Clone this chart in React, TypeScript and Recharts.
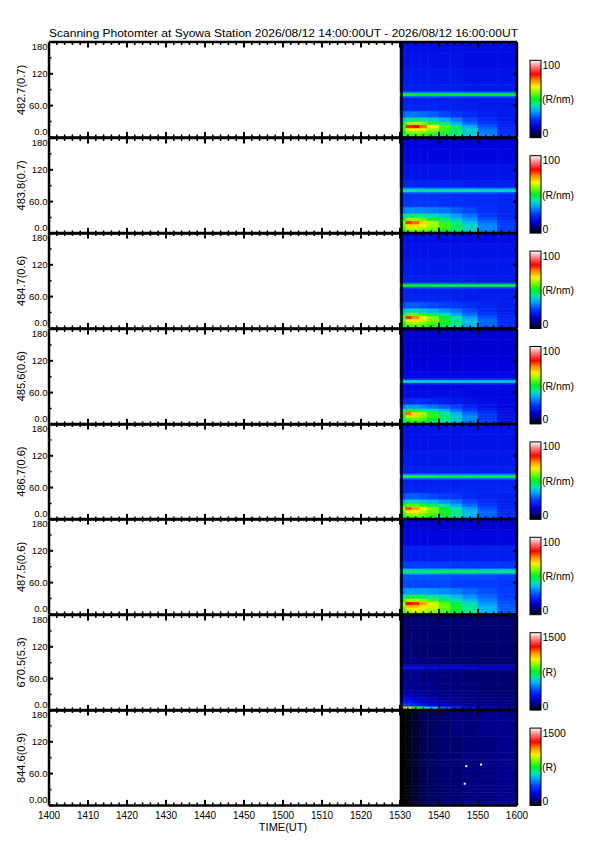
import React from 'react';
import { ComposedChart, XAxis, YAxis, ReferenceArea, ReferenceLine, Scatter } from 'recharts';

const TITLE = 'Scanning Photomter at Syowa Station  2026/08/12 14:00:00UT - 2026/08/12 16:00:00UT';
const X_TITLE = 'TIME(UT)';
const X_TICKS = [0, 10, 20, 30, 40, 50, 60, 70, 80, 90, 100, 110, 120];
const X_TICK_LABELS = ['1400', '1410', '1420', '1430', '1440', '1450', '1500', '1510', '1520', '1530', '1540', '1550', '1600'];
const X_ALL_TICKS = [0, 2, 4, 6, 8, 10, 12, 14, 16, 18, 20, 22, 24, 26, 28, 30, 32, 34, 36, 38, 40, 42, 44, 46, 48, 50, 52, 54, 56, 58, 60, 62, 64, 66, 68, 70, 72, 74, 76, 78, 80, 82, 84, 86, 88, 90, 92, 94, 96, 98, 100, 102, 104, 106, 108, 110, 112, 114, 116, 118, 120];
const Y_TICKS = [0, 60, 120, 180];
const Y_ALL_TICKS = [0, 30, 60, 90, 120, 150, 180];
const Y_LABELS = ['0.0', '60.0', '120', '180'];
const Y_LABELS_LAST = ['0.00', '60.0', '120', '180'];

const PANEL_NAMES = ['482.7(0.7)', '483.8(0.7)', '484.7(0.6)', '485.6(0.6)', '486.7(0.6)', '487.5(0.6)', '670.5(5.3)', '844.6(0.9)'];
const CBAR_MAX = ['100', '100', '100', '100', '100', '100', '1500', '1500'];
const CBAR_UNIT = ['(R/nm)', '(R/nm)', '(R/nm)', '(R/nm)', '(R/nm)', '(R/nm)', '(R)', '(R)'];

// time bin edges (minutes after 14:00 UT), angle bin edges (deg)
const TIME_EDGES = [90, 91.5, 93, 95, 97, 100, 103, 106, 110, 115, 120];
const ANGLE_EDGES = [0, 3, 8, 13, 18, 24, 30, 38, 50, 65, 76, 79, 84, 87, 100, 130, 160, 180];

// intensity in percent of colour-bar maximum, rows = angle bins (ascending), cols = time bins
const GRID_4827 = [
  [36, 42, 44, 42, 40, 37, 34, 30, 25, 21],
  [44, 52, 54, 53, 51, 48, 44, 38, 31, 23],
  [50, 58, 60, 59, 56, 52, 46, 39, 31, 23],
  [53, 64, 66, 64, 60, 54, 47, 39, 30, 22],
  [54, 80, 82, 76, 66, 55, 44, 35, 27, 21],
  [48, 60, 62, 58, 52, 44, 36, 29, 24, 20],
  [38, 44, 45, 43, 40, 36, 31, 26, 22, 19],
  [28, 30, 30, 29, 28, 26, 24, 22, 20, 19],
  [21, 21, 21, 21, 21, 20, 20, 20, 19, 19],
  [20, 20, 20, 20, 20, 20, 20, 19, 19, 19],
  [30, 30, 30, 30, 30, 29, 29, 29, 29, 29],
  [51, 51, 50, 50, 50, 50, 50, 50, 50, 50],
  [30, 30, 29, 29, 29, 29, 29, 29, 29, 29],
  [20, 20, 20, 20, 20, 20, 20, 19, 19, 19],
  [19, 19, 19, 19, 19, 19, 19, 18, 18, 18],
  [18, 18, 18, 18, 18, 18, 18, 17, 17, 17],
  [17, 17, 17, 17, 17, 17, 17, 17, 17, 17],
];
const GRID_4838 = [
  [40, 46, 48, 47, 45, 42, 38, 33, 27, 22],
  [48, 56, 58, 57, 54, 50, 45, 39, 31, 24],
  [53, 62, 63, 61, 58, 53, 47, 40, 32, 25],
  [56, 68, 68, 65, 60, 54, 47, 40, 32, 25],
  [58, 80, 76, 68, 61, 53, 45, 37, 30, 24],
  [50, 60, 60, 56, 51, 45, 39, 33, 27, 22],
  [40, 46, 46, 44, 41, 38, 34, 30, 25, 21],
  [30, 32, 32, 32, 31, 30, 28, 26, 23, 21],
  [24, 24, 24, 24, 24, 23, 23, 22, 22, 21],
  [23, 23, 23, 23, 23, 23, 22, 22, 22, 21],
  [30, 30, 30, 30, 30, 30, 29, 29, 29, 28],
  [43, 43, 43, 43, 43, 42, 42, 42, 41, 41],
  [31, 31, 31, 31, 30, 30, 30, 30, 29, 29],
  [21, 21, 21, 21, 21, 21, 21, 20, 20, 20],
  [18, 18, 18, 18, 18, 18, 18, 18, 18, 18],
  [16, 16, 16, 16, 16, 16, 16, 16, 16, 16],
  [15, 15, 15, 15, 15, 15, 15, 15, 15, 15],
];
const GRID_4847 = [
  [38, 44, 45, 44, 42, 39, 35, 30, 24, 20],
  [46, 54, 56, 54, 51, 47, 42, 35, 28, 22],
  [51, 60, 61, 59, 55, 50, 44, 37, 29, 22],
  [54, 66, 66, 63, 58, 51, 44, 37, 29, 22],
  [56, 80, 74, 66, 58, 50, 42, 34, 27, 21],
  [46, 56, 56, 52, 47, 41, 35, 29, 24, 20],
  [36, 40, 40, 38, 36, 33, 30, 26, 22, 20],
  [26, 28, 28, 27, 26, 25, 24, 22, 21, 20],
  [21, 21, 21, 21, 21, 21, 20, 20, 20, 20],
  [20, 20, 20, 20, 20, 20, 20, 20, 19, 19],
  [28, 28, 28, 28, 28, 28, 28, 27, 27, 27],
  [49, 50, 50, 49, 49, 48, 48, 48, 48, 48],
  [28, 28, 28, 28, 28, 28, 28, 27, 27, 27],
  [20, 20, 20, 20, 20, 20, 20, 20, 19, 19],
  [19, 19, 19, 19, 19, 19, 19, 19, 19, 19],
  [18, 18, 18, 18, 18, 18, 18, 18, 18, 18],
  [17, 17, 17, 17, 17, 17, 17, 17, 17, 17],
];
const GRID_4856 = [
  [34, 40, 41, 40, 38, 35, 31, 26, 21, 17],
  [42, 50, 52, 50, 46, 42, 37, 30, 24, 18],
  [47, 56, 57, 55, 50, 45, 39, 32, 25, 18],
  [50, 62, 62, 58, 53, 46, 39, 32, 24, 18],
  [52, 76, 68, 60, 52, 44, 36, 29, 23, 17],
  [42, 50, 50, 46, 41, 36, 30, 25, 20, 17],
  [30, 34, 34, 32, 30, 28, 25, 21, 18, 16],
  [21, 22, 22, 22, 21, 20, 19, 18, 17, 16],
  [17, 17, 17, 17, 17, 17, 17, 16, 16, 16],
  [16, 16, 16, 16, 16, 16, 16, 16, 16, 16],
  [23, 23, 23, 23, 23, 23, 23, 23, 23, 23],
  [41, 41, 41, 40, 40, 40, 39, 39, 39, 39],
  [23, 23, 23, 23, 23, 23, 23, 23, 23, 23],
  [16, 16, 16, 16, 16, 16, 16, 16, 16, 16],
  [15, 15, 15, 15, 15, 15, 15, 15, 15, 15],
  [14, 14, 14, 14, 14, 14, 14, 14, 14, 14],
  [14, 14, 14, 14, 14, 14, 14, 14, 14, 14],
];
const GRID_4867 = [
  [38, 44, 45, 44, 42, 39, 35, 30, 24, 20],
  [46, 54, 56, 54, 51, 47, 42, 35, 28, 22],
  [51, 60, 61, 58, 55, 50, 44, 37, 29, 22],
  [55, 66, 66, 62, 57, 51, 44, 37, 29, 22],
  [58, 78, 72, 65, 58, 50, 42, 34, 27, 21],
  [48, 56, 56, 52, 47, 41, 35, 29, 24, 20],
  [36, 40, 40, 38, 36, 33, 30, 26, 22, 20],
  [26, 28, 28, 27, 26, 25, 24, 22, 21, 20],
  [21, 21, 21, 21, 21, 21, 21, 21, 21, 21],
  [20, 20, 20, 20, 20, 20, 20, 20, 20, 20],
  [30, 30, 30, 30, 30, 30, 30, 30, 30, 30],
  [52, 52, 52, 51, 51, 51, 50, 50, 50, 50],
  [30, 30, 30, 30, 30, 30, 30, 30, 30, 30],
  [20, 20, 20, 20, 20, 20, 20, 20, 20, 20],
  [19, 19, 19, 19, 19, 19, 19, 19, 19, 19],
  [18, 18, 18, 18, 18, 18, 18, 18, 18, 18],
  [18, 18, 18, 18, 18, 18, 18, 18, 18, 18],
];
const GRID_4875 = [
  [42, 50, 52, 51, 49, 46, 42, 37, 31, 25],
  [52, 60, 62, 61, 58, 54, 49, 43, 35, 27],
  [56, 64, 66, 64, 61, 56, 51, 44, 36, 28],
  [59, 70, 70, 67, 63, 57, 51, 44, 36, 28],
  [60, 82, 80, 72, 64, 56, 48, 41, 33, 27],
  [52, 62, 62, 59, 54, 48, 43, 37, 31, 26],
  [42, 48, 48, 46, 43, 40, 37, 33, 29, 25],
  [32, 34, 34, 34, 33, 32, 31, 29, 27, 25],
  [26, 26, 26, 26, 26, 26, 25, 25, 25, 24],
  [27, 27, 27, 27, 27, 27, 26, 26, 26, 25],
  [36, 36, 36, 36, 36, 35, 35, 35, 34, 34],
  [47, 47, 47, 47, 47, 46, 46, 46, 45, 45],
  [36, 36, 36, 36, 35, 35, 35, 34, 34, 34],
  [25, 25, 25, 25, 25, 25, 24, 24, 24, 24],
  [20, 20, 20, 20, 20, 20, 20, 20, 20, 20],
  [16, 16, 16, 16, 16, 16, 16, 16, 16, 16],
  [14, 14, 14, 14, 14, 14, 14, 14, 14, 14],
];
const GRID_6705 = [
  [70, 58, 50, 42, 34, 27, 21, 16, 12, 10],
  [74, 62, 52, 44, 36, 28, 21, 16, 12, 10],
  [26, 24, 21, 18, 15, 13, 11, 10, 9, 8],
  [20, 19, 17, 15, 13, 11, 10, 9, 8, 8],
  [17, 16, 14, 13, 12, 10, 9, 9, 8, 8],
  [14, 13, 12, 11, 10, 9, 9, 8, 8, 7],
  [12, 11, 10, 10, 9, 9, 8, 8, 7, 7],
  [10, 10, 9, 9, 9, 8, 8, 8, 7, 7],
  [9, 9, 9, 8, 8, 8, 8, 7, 7, 7],
  [9, 9, 9, 8, 8, 8, 8, 7, 7, 7],
  [11, 11, 11, 11, 10, 10, 10, 10, 9, 9],
  [18, 18, 18, 17, 17, 17, 16, 16, 15, 14],
  [11, 11, 11, 10, 10, 10, 10, 9, 9, 9],
  [8, 8, 8, 8, 8, 7, 7, 7, 7, 7],
  [8, 8, 7, 7, 7, 7, 7, 7, 7, 7],
  [7, 7, 7, 7, 7, 7, 7, 7, 7, 7],
  [7, 7, 7, 7, 7, 7, 7, 7, 7, 7],
];
const GRID_8446 = [
  [0, 1, 6, 9, 11, 12, 12, 13, 13, 13],
  [0, 1, 4, 7, 8, 9, 9, 10, 10, 10],
  [0, 1, 3, 5, 6, 7, 7, 8, 8, 9],
  [0, 1, 3, 5, 6, 7, 7, 8, 8, 9],
  [0, 1, 3, 5, 6, 7, 7, 8, 8, 9],
  [0, 1, 3, 5, 6, 7, 7, 8, 8, 9],
  [0, 1, 3, 5, 6, 7, 7, 8, 8, 9],
  [0, 1, 3, 5, 6, 7, 7, 8, 8, 9],
  [0, 1, 3, 5, 6, 7, 7, 8, 8, 9],
  [0, 1, 3, 5, 6, 7, 7, 8, 8, 9],
  [0, 1, 3, 5, 6, 7, 7, 8, 8, 9],
  [0, 1, 3, 5, 6, 7, 7, 8, 8, 9],
  [0, 1, 3, 5, 6, 7, 7, 8, 8, 9],
  [0, 1, 3, 5, 6, 7, 7, 8, 8, 9],
  [0, 1, 3, 5, 6, 7, 7, 8, 8, 9],
  [0, 1, 3, 5, 6, 7, 8, 8, 9, 9],
  [0, 1, 3, 5, 6, 7, 8, 8, 9, 9],
];
const GRIDS = [GRID_4827, GRID_4838, GRID_4847, GRID_4856, GRID_4867, GRID_4875, GRID_6705, GRID_8446];

// bright points in the 844.6 panel
const SPOTS_8446 = [
  { t: 107.0, a: 74 },
  { t: 110.8, a: 77 },
  { t: 106.6, a: 41 },
];

// colour table (rainbow + white)
const CMAP: number[][] = [
  [0, 0, 0, 0], [6, 0, 0, 100], [15, 0, 0, 220], [25, 0, 60, 255], [35, 0, 170, 255],
  [42, 0, 230, 170], [50, 0, 240, 40], [58, 120, 255, 0], [66, 255, 240, 0], [74, 255, 140, 0],
  [82, 255, 0, 0], [92, 255, 130, 130], [100, 255, 255, 255],
];

function colorOf(v: number): string {
  const x = Math.max(0, Math.min(100, v));
  for (let i = 0; i < CMAP.length - 1; i++) {
    const a = CMAP[i], b = CMAP[i + 1];
    if (x >= a[0] && x <= b[0]) {
      const f = (x - a[0]) / (b[0] - a[0]);
      const r = Math.round(a[1] + (b[1] - a[1]) * f);
      const g = Math.round(a[2] + (b[2] - a[2]) * f);
      const bl = Math.round(a[3] + (b[3] - a[3]) * f);
      return `rgb(${r},${g},${bl})`;
    }
  }
  return 'rgb(255,255,255)';
}

const FONT = '"Liberation Sans", Arial, sans-serif';
const PLOT_LEFT = 49;
const PLOT_RIGHT = 517;
const PANEL_TOP = 42.3;
const PANEL_H = 95.4;
const CHART_W = 545;

// x tick marks pointing into the plot (dir = -1: up from bottom edge, +1: down from top edge)
const XTickMark = (props: any) => {
  const { x, y, payload, dir, showLabel } = props;
  const v = payload.value;
  const mi = X_TICKS.indexOf(v);
  const major = mi >= 0;
  const len = major ? 5.5 : 3;
  return (
    <g>
      <line x1={x} x2={x} y1={y} y2={y + dir * len} stroke="#000" strokeWidth={major ? 2 : 1.5} />
      {showLabel && major && (
        <text x={x} y={y + 13.2} textAnchor="middle" fontSize={10} fontFamily={FONT} fill="#000">
          {X_TICK_LABELS[mi]}
        </text>
      )}
    </g>
  );
};

// y tick marks pointing into the plot (dir = +1: right from left edge, -1: left from right edge)
const YTickMark = (props: any) => {
  const { x, y, payload, dir, labels } = props;
  const v = payload.value;
  const mi = Y_TICKS.indexOf(v);
  const major = mi >= 0;
  const len = major ? 4 : 2.5;
  const dy = v === 180 ? 8.3 : v === 0 ? -2 : 3.5;
  return (
    <g>
      <line x1={x} x2={x + dir * len} y1={y} y2={y} stroke="#000" strokeWidth={major ? 2 : 1.5} />
      {labels && major && (
        <text x={x - 1.5} y={y} dy={dy} textAnchor="end" fontSize={9.5} fontFamily={FONT} fill="#000">
          {labels[mi]}
        </text>
      )}
    </g>
  );
};

const AXIS_LINE = { stroke: '#000', strokeWidth: 2.5 };

function Panel({ idx }: { idx: number }) {
  const last = idx === PANEL_NAMES.length - 1;
  const top = PANEL_TOP + idx * PANEL_H;
  const mTop = 8;
  const mBot = last ? 30 : 8;
  const h = PANEL_H + mTop + mBot;
  const grid = GRIDS[idx];
  const labels = last ? Y_LABELS_LAST : Y_LABELS;
  const cells: React.ReactNode[] = [];
  grid.forEach((row, r) =>
    row.forEach((v, c) => {
      const col = colorOf(v);
      cells.push(
        <ReferenceArea
          key={`c${r}_${c}`}
          xAxisId="xb"
          yAxisId="yl"
          x1={TIME_EDGES[c]}
          x2={TIME_EDGES[c + 1]}
          y1={ANGLE_EDGES[r]}
          y2={ANGLE_EDGES[r + 1]}
          fill={col}
          fillOpacity={1}
          stroke={col}
          strokeWidth={0.6}
          ifOverflow="visible"
        />
      );
    })
  );
  return (
    <div style={{ position: 'absolute', left: 0, top: top - mTop, width: CHART_W, height: h }}>
      <ComposedChart width={CHART_W} height={h} margin={{ top: mTop - 1, right: CHART_W - PLOT_RIGHT - 1, bottom: mBot - 1, left: 0 }}>
        {cells}
        <ReferenceLine xAxisId="xb" yAxisId="yl" x={90.4} stroke="#000" strokeWidth={2.5} ifOverflow="visible" />
        {last && (
          <Scatter
            xAxisId="xb"
            yAxisId="yl"
            data={SPOTS_8446}
            dataKey="a"
            isAnimationActive={false}
            shape={(p: any) => <rect x={p.cx - 1} y={p.cy - 1} width={2} height={2} fill="#fff" />}
          />
        )}
        <XAxis xAxisId="xb" type="number" dataKey="t" domain={[0, 120]} allowDataOverflow ticks={X_ALL_TICKS} interval={0}
          orientation="bottom" height={1} tickSize={0} tickMargin={0} tickLine={false} axisLine={AXIS_LINE}
          tick={(p: any) => <XTickMark {...p} dir={-1} showLabel={last} />} />
        <XAxis xAxisId="xt" type="number" dataKey="t" domain={[0, 120]} allowDataOverflow ticks={X_ALL_TICKS} interval={0}
          orientation="top" height={1} tickSize={0} tickMargin={0} tickLine={false} axisLine={AXIS_LINE}
          tick={(p: any) => <XTickMark {...p} dir={1} showLabel={false} />} />
        <YAxis yAxisId="yl" type="number" dataKey="a" domain={[0, 180]} allowDataOverflow ticks={Y_ALL_TICKS} interval={0}
          orientation="left" width={PLOT_LEFT} tickSize={0} tickMargin={0} tickLine={false} axisLine={AXIS_LINE}
          tick={(p: any) => <YTickMark {...p} dir={1} labels={labels} />} />
        <YAxis yAxisId="yr" type="number" dataKey="a" domain={[0, 180]} allowDataOverflow ticks={Y_ALL_TICKS} interval={0}
          orientation="right" width={1} tickSize={0} tickMargin={0} tickLine={false} axisLine={AXIS_LINE}
          tick={(p: any) => <YTickMark {...p} dir={-1} />} />
      </ComposedChart>
    </div>
  );
}

function Overlay() {
  return (
    <svg width={595} height={842} style={{ position: 'absolute', left: 0, top: 0, pointerEvents: 'none' }}>
      <defs>
        <linearGradient id="cbarGrad" x1="0" y1="1" x2="0" y2="0">
          {CMAP.map((s, i) => (
            <stop key={i} offset={`${s[0]}%`} stopColor={`rgb(${s[1]},${s[2]},${s[3]})`} />
          ))}
        </linearGradient>
      </defs>
      <text x={283.5} y={36.5} textAnchor="middle" fontSize={11.5} fontFamily={FONT} textLength={469} lengthAdjust="spacingAndGlyphs">
        {TITLE}
      </text>
      {PANEL_NAMES.map((name, i) => {
        const top = PANEL_TOP + i * PANEL_H;
        const cy = top + PANEL_H / 2;
        const cbTop = top + 18;
        const cbBot = top + PANEL_H;
        return (
          <g key={name}>
            <text transform={`translate(24.5, ${cy}) rotate(-90)`} textAnchor="middle" fontSize={11} fontFamily={FONT}>
              {name}
            </text>
            <rect x={530} y={cbTop} width={11} height={cbBot - cbTop} fill="url(#cbarGrad)" stroke="#000" strokeWidth={1} />
            <text x={542.5} y={cbTop + 8.5} fontSize={10.5} fontFamily={FONT}>{CBAR_MAX[i]}</text>
            <text x={542} y={top + 61} fontSize={10.5} fontFamily={FONT}>{CBAR_UNIT[i]}</text>
            <text x={542.5} y={cbBot - 0.5} fontSize={10.5} fontFamily={FONT}>0</text>
          </g>
        );
      })}
      <text x={283} y={830.5} textAnchor="middle" fontSize={11} fontFamily={FONT}>{X_TITLE}</text>
    </svg>
  );
}

export default function App() {
  return (
    <div style={{ position: 'absolute', left: 0, top: 0, width: 595, height: 842, background: '#fff' }}>
      {PANEL_NAMES.map((n, i) => (
        <Panel key={n} idx={i} />
      ))}
      <Overlay />
    </div>
  );
}
